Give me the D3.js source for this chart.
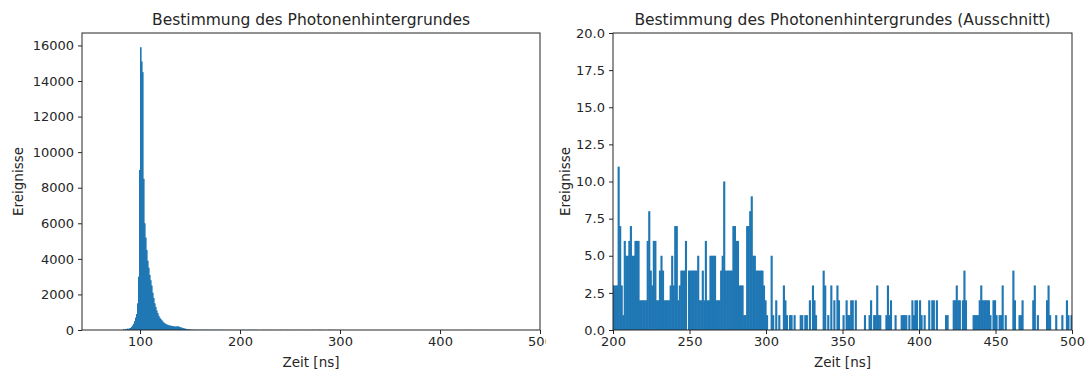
<!DOCTYPE html>
<html>
<head>
<meta charset="utf-8">
<script src="https://cdn.jsdelivr.net/npm/d3@7/dist/d3.min.js"></script>
<style>
  body { margin: 0; background: #fff; }
  svg text { font-family: "DejaVu Sans", sans-serif; fill: #262626; }
  .tick line { stroke: #262626; }
  .domain { display: none; }
</style>
</head>
<body>
<div id="content"></div>
<script>
// histogram: 1 ns bins, counts per bin
var binStart = 80;
var peakCounts = [
  0, 0, 0, 40, 0, 60, 30, 80, 50, 100,
  120, 180, 250, 350, 500, 700, 900, 1500, 3000, 9000,
  15900, 15100, 14500, 8500, 6000, 5200, 4500, 3900, 3500, 3100,
  2800, 2500, 2100, 1800, 1500, 1300, 1100, 950, 800, 700,
  620, 550, 480, 420, 380, 340, 310, 290, 270, 250,
  240, 230, 220, 210, 200, 190, 200, 210, 190, 170,
  150, 130, 110, 95, 80, 65, 55, 45, 36, 28,
  22, 18, 15, 13, 11, 10, 9, 11, 8, 9,
  10, 9, 11, 8, 9, 7, 8, 10, 6, 7,
  8, 6, 7, 5, 6, 8, 5, 6, 7, 5,
  6, 4, 5, 7, 5, 4, 6, 5, 4, 6,
  5, 4, 3, 6, 4, 5, 3, 4, 5, 3
];
// 200 ns .. 499 ns
var tailCounts = [
  3, 3, 3, 11, 7, 3, 1, 6, 5, 5,
  6, 7, 5, 5, 6, 6, 6, 2, 2, 2,
  2, 2, 6, 8, 4, 3, 6, 6, 2, 2,
  4, 5, 4, 2, 2, 2, 2, 3, 5, 3,
  7, 7, 2, 3, 4, 4, 4, 6, 0, 4,
  4, 4, 4, 4, 4, 5, 2, 2, 4, 2,
  6, 2, 2, 5, 5, 5, 5, 2, 2, 2,
  4, 5, 10, 4, 4, 4, 4, 4, 7, 7,
  6, 6, 3, 3, 3, 1, 1, 7, 7, 8,
  9, 5, 5, 4, 4, 4, 4, 4, 3, 2,
  1, 0, 0, 5, 1, 0, 2, 0, 1, 0,
  0, 3, 2, 1, 0, 1, 1, 0, 1, 0,
  0, 0, 1, 1, 0, 1, 1, 0, 2, 0,
  3, 2, 1, 0, 0, 0, 0, 4, 3, 0,
  1, 0, 3, 0, 2, 0, 3, 2, 0, 0,
  1, 0, 2, 1, 1, 2, 2, 0, 2, 0,
  0, 0, 0, 0, 1, 0, 0, 1, 2, 0,
  1, 1, 3, 1, 1, 0, 0, 0, 1, 3,
  1, 2, 0, 0, 1, 0, 0, 0, 1, 1,
  1, 1, 0, 1, 0, 2, 1, 2, 2, 0,
  2, 1, 0, 1, 0, 0, 2, 0, 2, 2,
  0, 2, 0, 0, 0, 0, 0, 1, 1, 0,
  0, 0, 2, 2, 3, 2, 2, 0, 2, 4,
  2, 0, 0, 0, 0, 1, 1, 1, 1, 2,
  3, 2, 2, 2, 2, 2, 1, 0, 2, 2,
  1, 0, 1, 1, 3, 0, 1, 0, 0, 0,
  0, 4, 2, 0, 0, 1, 1, 2, 0, 0,
  0, 0, 0, 0, 2, 3, 0, 1, 0, 0,
  0, 0, 0, 2, 3, 1, 0, 0, 0, 1,
  0, 0, 0, 1, 0, 0, 2, 1, 0, 1
];
var leftXTicks = [100, 200, 300, 400, 500];
var leftYTicks = [0, 2000, 4000, 6000, 8000, 10000, 12000, 14000, 16000];
var rightXTicks = [200, 250, 300, 350, 400, 450, 500];
var rightYTicks = [0, 2.5, 5, 7.5, 10, 12.5, 15, 17.5, 20];

var bins = peakCounts.concat(tailCounts).map(function (c, i) {
  return { x0: binStart + i, x1: binStart + i + 1, n: c };
});

var width = 1088, height = 372;
var svg = d3.select("#content").append("svg")
  .attr("width", width)
  .attr("height", height);

function drawPanel(opt) {
  var x = d3.scaleLinear().domain(opt.xDomain).range([opt.left, opt.right]);
  var y = d3.scaleLinear().domain(opt.yDomain).range([opt.bottom, opt.top]);
  var g = svg.append("g");

  var clipId = "clip" + opt.id;
  g.append("clipPath").attr("id", clipId)
    .append("rect")
    .attr("x", opt.left).attr("y", opt.top)
    .attr("width", opt.right - opt.left).attr("height", opt.bottom - opt.top);

  // bars overlap a little so neighbouring bins don't show seams
  g.append("g")
    .attr("clip-path", "url(#" + clipId + ")")
    .selectAll("rect")
    .data(bins.filter(function (d) { return d.n > 0; }))
    .enter().append("rect")
    .attr("x", function (d) { return x(d.x0); })
    .attr("width", function (d) { return x(d.x1) - x(d.x0) + 0.6; })
    .attr("y", function (d) { return y(d.n); })
    .attr("height", function (d) { return opt.bottom - y(d.n); })
    .attr("fill", "#1f77b4");

  var xAxis = g.append("g")
    .attr("transform", "translate(0," + opt.bottom + ")")
    .call(d3.axisBottom(x).tickValues(opt.xTicks).tickSize(4).tickPadding(3).tickFormat(d3.format("d")));
  xAxis.selectAll("text").style("font-size", "13px");

  var yAxis = g.append("g")
    .attr("transform", "translate(" + opt.left + ",0)")
    .call(d3.axisLeft(y).tickValues(opt.yTicks).tickSize(4).tickPadding(4).tickFormat(opt.yFormat));
  yAxis.selectAll("text").style("font-size", "13px");

  g.append("rect")
    .attr("x", opt.left).attr("y", opt.top)
    .attr("width", opt.right - opt.left).attr("height", opt.bottom - opt.top)
    .attr("fill", "none")
    .attr("stroke", "#262626")
    .attr("stroke-width", 1);

  var mid = (opt.left + opt.right) / 2;
  g.append("text")
    .attr("x", mid).attr("y", 25)
    .attr("text-anchor", "middle")
    .style("font-size", "15.5px")
    .text(opt.title);

  g.append("text")
    .attr("x", mid).attr("y", 367)
    .attr("text-anchor", "middle")
    .style("font-size", "13.5px")
    .text("Zeit [ns]");

  g.append("text")
    .attr("transform", "translate(" + opt.yLabelX + "," + ((opt.top + opt.bottom) / 2) + ") rotate(-90)")
    .attr("text-anchor", "middle")
    .style("font-size", "13.5px")
    .text("Ereignisse");
}

drawPanel({
  id: "L", left: 82, right: 540, top: 33, bottom: 330,
  xDomain: [42, 500], yDomain: [0, 16700],
  xTicks: leftXTicks, yTicks: leftYTicks, yFormat: d3.format("d"),
  title: "Bestimmung des Photonenhintergrundes", yLabelX: 23
});

// white strip that cuts the left picture at its edge
svg.append("rect").attr("x", 546).attr("y", 0).attr("width", 10).attr("height", height).attr("fill", "#fff");

drawPanel({
  id: "R", left: 613, right: 1072, top: 33, bottom: 330,
  xDomain: [200, 500], yDomain: [0, 20],
  xTicks: rightXTicks, yTicks: rightYTicks, yFormat: d3.format(".1f"),
  title: "Bestimmung des Photonenhintergrundes (Ausschnitt)", yLabelX: 570
});
</script>
</body>
</html>
